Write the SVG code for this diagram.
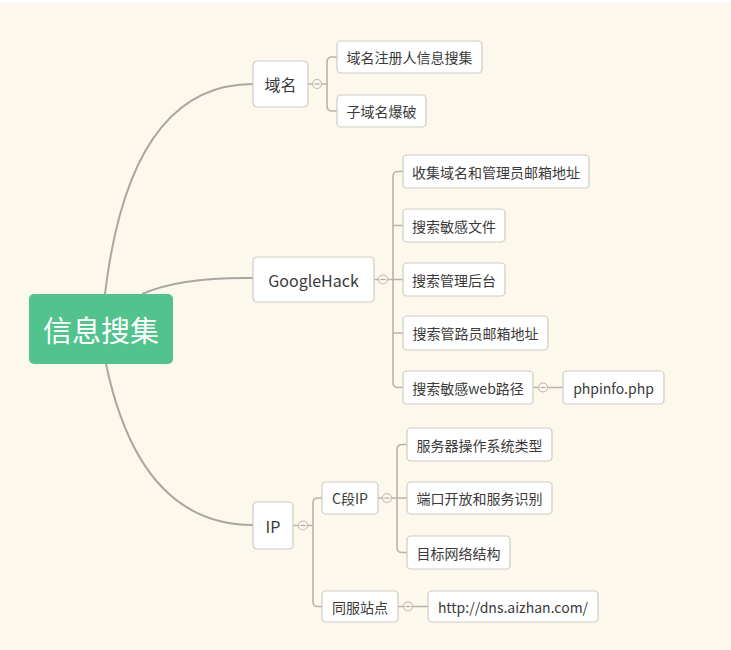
<svg xmlns="http://www.w3.org/2000/svg" width="731" height="650" viewBox="0 0 731 650">
<defs>
<style>
.bg{fill:#fdf8ec}
.box{fill:#ffffff;stroke:#cfcbc4;stroke-width:1.2}
.t{font-family:"Noto Sans CJK SC","Microsoft YaHei",sans-serif;fill:#3a3a3a;text-anchor:middle;dominant-baseline:central}
.t14{font-size:14px}
.t16{font-size:16px}
.main{fill:none;stroke:#aaa7a2;stroke-width:2}
.br{fill:none;stroke:#b8b3ab;stroke-width:1.6}
.col{fill:#fbf7ee;stroke:#bdb8b0;stroke-width:1.1}
.minus{stroke:#aaa6a0;stroke-width:1.1}
</style>
</defs>
<rect class="bg" x="0" y="0" width="731" height="650"/>
<rect x="0" y="0" width="731" height="3" fill="#ffffff"/>

<g id="connectors">
  <path class="main" d="M105,294 Q130,84 253,84"/>
  <path class="main" d="M142,294 Q180,277 253,278"/>
  <path class="main" d="M106,364 Q140,525 253,525"/>

  <!-- 域名 -->
  <path class="br" d="M308,84 H312.5 M321.5,84 H327"/>
  <path class="br" d="M337,57 H332 Q327,57 327,62 V106 Q327,111 332,111 H337"/>
  <g><circle class="col" cx="317" cy="84" r="4.5"/><line class="minus" x1="314.5" y1="84" x2="319.5" y2="84"/></g>

  <!-- GoogleHack -->
  <path class="br" d="M374,279.5 H378.5 M387.5,279.5 H393"/>
  <path class="br" d="M403,171.5 H398 Q393,171.5 393,176.5 V382.5 Q393,387.5 398,387.5 H403 M393,225.5 H403 M393,279.5 H403 M393,333 H403"/>
  <g><circle class="col" cx="383" cy="279.5" r="4.5"/><line class="minus" x1="380.5" y1="279.5" x2="385.5" y2="279.5"/></g>

  <!-- web路径 -->
  <path class="br" d="M533,387.5 H538.5 M547.5,387.5 H563"/>
  <g><circle class="col" cx="543" cy="387.5" r="4.5"/><line class="minus" x1="540.5" y1="387.5" x2="545.5" y2="387.5"/></g>

  <!-- IP -->
  <path class="br" d="M293,525.5 H298.5 M307.5,525.5 H313"/>
  <path class="br" d="M322,498 H318 Q313,498 313,503 V601.5 Q313,606.5 318,606.5 H322"/>
  <g><circle class="col" cx="303" cy="525.5" r="4.5"/><line class="minus" x1="300.5" y1="525.5" x2="305.5" y2="525.5"/></g>

  <!-- C段IP -->
  <path class="br" d="M378,498 H382.5 M391.5,498 H397"/>
  <path class="br" d="M407,444.5 H402 Q397,444.5 397,449.5 V547.5 Q397,552.5 402,552.5 H407 M397,498 H407"/>
  <g><circle class="col" cx="387" cy="498" r="4.5"/><line class="minus" x1="384.5" y1="498" x2="389.5" y2="498"/></g>

  <!-- 同服站点 -->
  <path class="br" d="M398,606.5 H403.5 M412.5,606.5 H428"/>
  <g><circle class="col" cx="408" cy="606.5" r="4.5"/><line class="minus" x1="405.5" y1="606.5" x2="410.5" y2="606.5"/></g>
</g>

<g id="root">
  <rect x="29" y="294" width="144" height="70" rx="5" fill="#52c38c"/>
  <text x="101" y="329" font-family="&quot;Noto Sans CJK SC&quot;,sans-serif" font-size="29" fill="#ffffff" text-anchor="middle" dominant-baseline="central">信息搜集</text>
</g>

<g id="n-domain"><rect class="box" x="253" y="61" width="55" height="46" rx="4"/><text class="t t16" x="280.5" y="84">域名</text></g>
<g id="n-domain-reg"><rect class="box" x="337" y="41" width="145" height="32" rx="4"/><text class="t t14" x="409.5" y="57">域名注册人信息搜集</text></g>
<g id="n-subdomain"><rect class="box" x="337" y="95" width="89" height="32" rx="4"/><text class="t t14" x="381.5" y="111">子域名爆破</text></g>

<g id="n-googlehack"><rect class="box" x="253" y="257" width="121" height="45" rx="4"/><text class="t t16" x="313.5" y="279.5">GoogleHack</text></g>
<g id="n-g1"><rect class="box" x="403" y="155" width="186" height="33" rx="4"/><text class="t t14" x="496" y="171.5">收集域名和管理员邮箱地址</text></g>
<g id="n-g2"><rect class="box" x="403" y="209" width="102" height="33" rx="4"/><text class="t t14" x="454" y="225.5">搜索敏感文件</text></g>
<g id="n-g3"><rect class="box" x="403" y="263" width="102" height="33" rx="4"/><text class="t t14" x="454" y="279.5">搜索管理后台</text></g>
<g id="n-g4"><rect class="box" x="403" y="316" width="145" height="34" rx="4"/><text class="t t14" x="475.5" y="333">搜索管路员邮箱地址</text></g>
<g id="n-g5"><rect class="box" x="403" y="371" width="130" height="33" rx="4"/><text class="t t14" x="468" y="387.5">搜索敏感web路径</text></g>
<g id="n-phpinfo"><rect class="box" x="563" y="371" width="101" height="33" rx="4"/><text class="t t14" x="613.5" y="387.5">phpinfo.php</text></g>

<g id="n-ip"><rect class="box" x="253" y="502" width="40" height="47" rx="4"/><text class="t t16" x="273" y="525.5">IP</text></g>
<g id="n-cip"><rect class="box" x="322" y="482" width="56" height="32" rx="4"/><text class="t t14" x="350" y="498">C段IP</text></g>
<g id="n-c1"><rect class="box" x="407" y="428" width="145" height="33" rx="4"/><text class="t t14" x="479.5" y="444.5">服务器操作系统类型</text></g>
<g id="n-c2"><rect class="box" x="407" y="482" width="145" height="32" rx="4"/><text class="t t14" x="479.5" y="498">端口开放和服务识别</text></g>
<g id="n-c3"><rect class="box" x="407" y="536" width="103" height="33" rx="4"/><text class="t t14" x="458.5" y="552.5">目标网络结构</text></g>
<g id="n-same"><rect class="box" x="322" y="591" width="76" height="31" rx="4"/><text class="t t14" x="360" y="606.5">同服站点</text></g>
<g id="n-aizhan"><rect class="box" x="428" y="591" width="170" height="31" rx="4"/><text class="t t14" x="513" y="606.5">http://dns.aizhan.com/</text></g>
</svg>
